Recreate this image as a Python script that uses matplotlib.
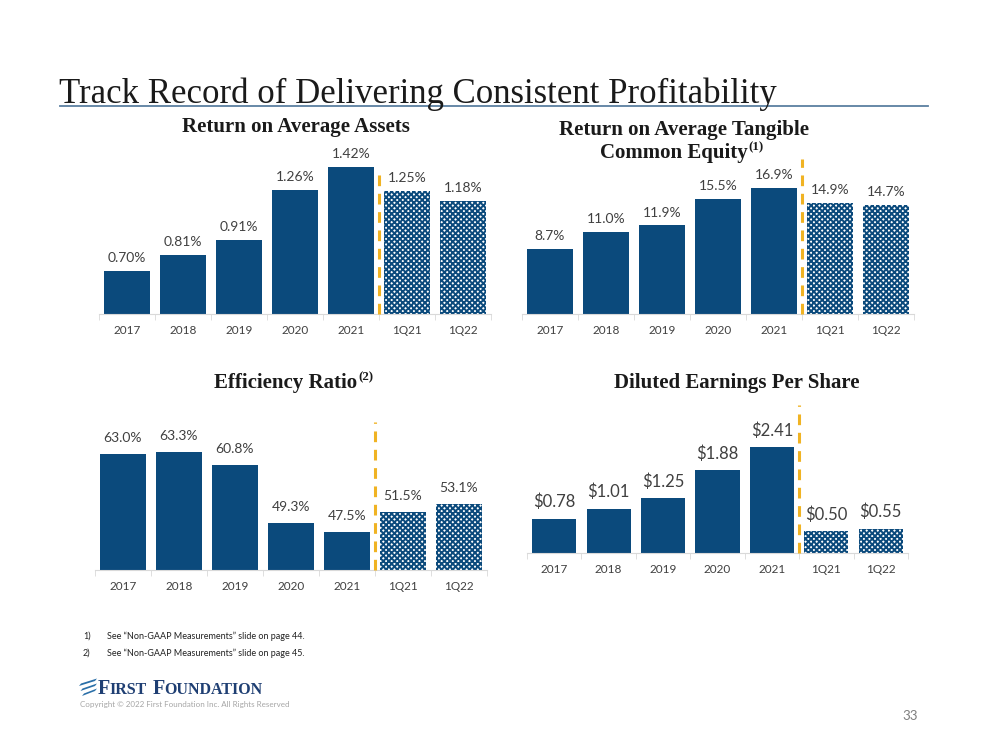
import numpy as np
import matplotlib
matplotlib.use('Agg')
import matplotlib.pyplot as plt

W, H = 999, 750

# datos
cats = ['2017', '2018', '2019', '2020', '2021', '1Q21', '1Q22']
roaa = [0.70, 0.81, 0.91, 1.26, 1.42, 1.25, 1.18]
rotce = [8.7, 11.0, 11.9, 15.5, 16.9, 14.9, 14.7]
eff = [63.0, 63.3, 60.8, 49.3, 47.5, 51.5, 53.1]
eps = [0.78, 1.01, 1.25, 1.88, 2.41, 0.50, 0.55]

navy = '#0b4a7c'
gold = '#f0b323'
txt = '#404040'
sans = ['Lato', 'DejaVu Sans']
serif = ['Liberation Serif', 'DejaVu Serif']

plt.rcParams['hatch.linewidth'] = 1.4
plt.rcParams['font.family'] = sans

fig = plt.figure(figsize=(W / 100, H / 100), dpi=100)


def px(x, y):
    return x / W, 1 - y / H


def panel(vals, fmt, x0, x1, yb, pxu, ylo, yhi, dash_top, lsize, off=6, bw=0.82):
    h = (yhi - ylo) * pxu
    ax = fig.add_axes([x0 / W, 1 - yb / H, (x1 - x0) / W, h / H])
    x = np.arange(len(cats))
    for i, v in enumerate(vals):
        if i < 5:
            ax.bar(x[i], v - ylo, bottom=ylo, width=bw, color=navy, linewidth=0)
        else:
            ax.bar(x[i], v - ylo, bottom=ylo, width=bw, facecolor='white',
                   edgecolor=navy, hatch='xxxxxx', linewidth=0)
        ax.annotate(fmt.format(v), (x[i], v), xytext=(0, off), textcoords='offset points',
                    ha='center', va='bottom', fontsize=lsize, color=txt)
    ax.plot([4.5, 4.5], [ylo, dash_top], color=gold, lw=2.2, ls=(0, (3.5, 2.5)),
            clip_on=False, zorder=5)
    ax.set_xlim(-0.5, 6.5)
    ax.set_ylim(ylo, yhi)
    for s in ['top', 'right', 'left']:
        ax.spines[s].set_visible(False)
    ax.spines['bottom'].set_color('#d9d9d9')
    ax.set_yticks([])
    ax.set_xticks(x)
    ax.set_xticklabels(cats, fontsize=8.5, color=txt)
    ax.tick_params(axis='x', length=0, pad=8)
    ax.set_xticks(np.arange(-0.5, 7, 1), minor=True)
    ax.tick_params(axis='x', which='minor', length=4, color='#d9d9d9')
    return ax


panel(roaa, '{:.2f}%', 99, 491, 314, 144.4, 0.4, 1.5, 1.40, 10, off=5)
panel(rotce, '{:.1f}%', 522, 914, 314, 7.44, 0, 20.5, 20.8, 10, off=5)
panel(eff, '{:.1f}%', 95, 487, 570, 5.06, 40, 70, 69.2, 10, off=7)
panel(eps, '${:.2f}', 527, 908, 553, 44, 0, 3.4, 3.36, 12, off=6, bw=0.81)

# titulos de cada grafica
rend = fig.canvas.get_renderer()


def titulo(base, sup, cx, cy, fs=15):
    t = fig.text(*px(cx, cy), base, fontsize=fs, fontweight='bold', family=serif,
                 ha='left', va='center', color='#1a1a1a')
    wb = t.get_window_extent(rend).width
    ws = 0
    s = None
    if sup:
        s = fig.text(0, 0, sup, fontsize=fs * 0.62, fontweight='bold', family=serif,
                     ha='left', va='center', color='#1a1a1a')
        ws = s.get_window_extent(rend).width + 1
    left = cx - (wb + ws) / 2
    t.set_position(px(left, cy))
    if s is not None:
        s.set_position(px(left + wb + 1, cy - 6))


titulo('Return on Average Assets', None, 296, 127)
titulo('Return on Average Tangible', None, 684, 130)
titulo('Common Equity', '(1)', 682, 153)
titulo('Efficiency Ratio', '(2)', 294, 383)
titulo('Diluted Earnings Per Share', None, 737, 383)

# titulo principal
fig.text(*px(59, 103), 'Track Record of Delivering Consistent Profitability',
         fontsize=25, family=serif, ha='left', va='baseline', color='#1a1a1a')
fig.add_artist(plt.Line2D([60 / W, 928 / W], [1 - 106 / H] * 2, color='#5a7fa0', lw=1.3))

# notas
for k, pag in enumerate(['44', '45']):
    yy = 636 + k * 17
    fig.text(*px(83, yy), '%d)' % (k + 1), fontsize=6.5, ha='left', va='center', color='#222222')
    fig.text(*px(107, yy), 'See \u201cNon-GAAP Measurements\u201d slide on page %s.' % pag,
             fontsize=6.5, ha='left', va='center', color='#222222')

# logo
for k in range(3):
    y0 = 680 + k * 5
    xs = [81 + k * 1.5, 97, 95, 79 + k * 1.5]
    ys = [y0 + 3.5, y0 - 1.5, y0 + 1, y0 + 6]
    fig.add_artist(plt.Polygon([px(a, b) for a, b in zip(xs, ys)], closed=True,
                               color='#2a6fa8', lw=0))
fig.text(*px(98, 694), 'F', fontsize=14.5, family=serif, fontweight='bold',
         ha='left', va='baseline', color='#1f3f73')
fig.text(*px(109, 694), 'IRST', fontsize=11.5, family=serif, fontweight='bold',
         ha='left', va='baseline', color='#1f3f73')
fig.text(*px(153, 694), 'F', fontsize=14.5, family=serif, fontweight='bold',
         ha='left', va='baseline', color='#1f3f73')
fig.text(*px(164, 694), 'OUNDATION', fontsize=11.5, family=serif, fontweight='bold',
         ha='left', va='baseline', color='#1f3f73')
fig.text(*px(80, 705), 'Copyright \u00a9 2022 First Foundation Inc. All Rights Reserved',
         fontsize=5.8, ha='left', va='center', color='#a6a6a6')

fig.text(*px(910, 716), '33', fontsize=9.5, ha='center', va='center', color='#7f7f7f')

plt.savefig('out.png', dpi=100)
